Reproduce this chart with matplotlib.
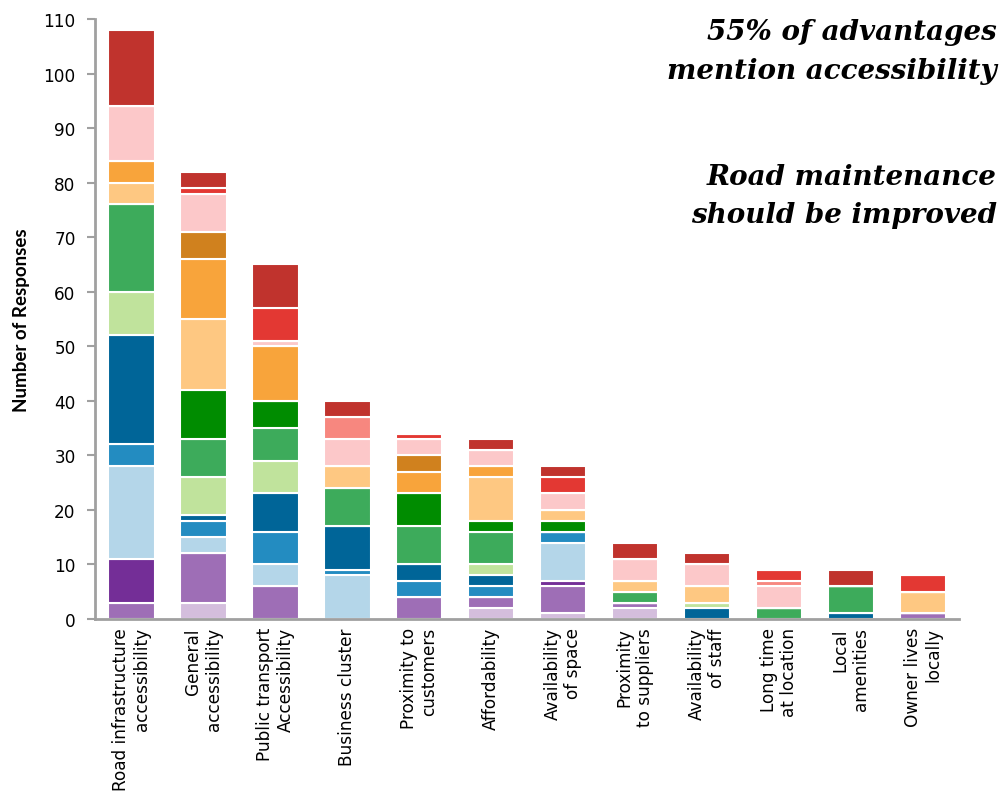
import numpy as np
import matplotlib
matplotlib.use("Agg")
import matplotlib.pyplot as plt

categories = [
    "Road infrastructure\naccessibility",
    "General\naccessibility",
    "Public transport\nAccessibility",
    "Business cluster",
    "Proximity to\ncustomers",
    "Affordability",
    "Availability\nof space",
    "Proximity\nto suppliers",
    "Availability\nof staff",
    "Long time\nat location",
    "Local\namenities",
    "Owner lives\nlocally",
]

# stacked segments, bottom to top
light_purple = [0, 3, 0, 0, 0, 2, 1, 2, 0, 0, 0, 0]
mid_purple   = [3, 9, 6, 0, 4, 2, 5, 1, 0, 0, 0, 1]
dark_purple  = [8, 0, 0, 0, 0, 0, 1, 0, 0, 0, 0, 0]
light_blue   = [17, 3, 4, 8, 0, 0, 7, 0, 0, 0, 0, 0]
mid_blue     = [4, 3, 6, 1, 3, 2, 2, 0, 0, 0, 0, 0]
dark_blue    = [20, 1, 7, 8, 3, 2, 0, 0, 2, 0, 1, 0]
light_green  = [8, 7, 6, 0, 0, 2, 0, 0, 1, 0, 0, 0]
mid_green    = [16, 7, 6, 7, 7, 6, 0, 2, 0, 2, 5, 0]
dark_green   = [0, 9, 5, 0, 6, 2, 2, 0, 0, 0, 0, 0]
light_orange = [4, 13, 0, 4, 0, 8, 2, 2, 3, 0, 0, 4]
mid_orange   = [4, 11, 10, 0, 4, 2, 0, 0, 0, 0, 0, 0]
dark_orange  = [0, 5, 0, 0, 3, 0, 0, 0, 0, 0, 0, 0]
light_pink   = [10, 7, 1, 5, 3, 3, 3, 4, 4, 4, 0, 0]
salmon       = [0, 0, 0, 4, 0, 0, 0, 0, 0, 1, 0, 0]
red          = [0, 1, 6, 0, 1, 0, 3, 0, 0, 2, 0, 3]
dark_red     = [14, 3, 8, 3, 0, 2, 2, 3, 2, 0, 3, 0]

series = [light_purple, mid_purple, dark_purple, light_blue, mid_blue, dark_blue,
          light_green, mid_green, dark_green, light_orange, mid_orange, dark_orange,
          light_pink, salmon, red, dark_red]
colors = ["#d4bedd", "#9e6eb6", "#742e97", "#b4d6e9", "#238cc1", "#006598",
          "#c0e39c", "#3dab5b", "#008c00", "#fec882", "#f8a43b", "#d0811e",
          "#fcc8c9", "#f7877f", "#e33833", "#c0332d"]

fig = plt.figure(figsize=(10.02, 8.03), dpi=100)
ax = fig.add_axes([0.095, 0.228, 0.862, 0.747])

x = np.arange(len(categories))
bottom = np.zeros(len(categories))
for vals, col in zip(series, colors):
    vals = np.array(vals, dtype=float)
    ax.bar(x, vals, bottom=bottom, width=0.65, color=col,
           edgecolor="white", linewidth=1.5)
    bottom += vals

ax.set_xlim(-0.5, len(categories) - 0.5)
ax.set_ylim(0, 110)
ax.set_yticks(range(0, 111, 10))
ax.set_xticks(x)
ax.set_xticklabels(categories, rotation=90, ha="center", va="top",
                   multialignment="right", fontsize=12.2)
ax.tick_params(axis="x", length=0, pad=6)
ax.tick_params(axis="y", length=6, width=1.5, color="#a0a0a0",
               labelsize=12.2, pad=8)

for s in ["top", "right"]:
    ax.spines[s].set_visible(False)
for s in ["left", "bottom"]:
    ax.spines[s].set_color("#a0a0a0")
    ax.spines[s].set_linewidth(2)

ax.set_ylabel("Number of Responses", fontsize=13.5, fontweight="bold",
              family="Lato", labelpad=10)

note_kw = dict(ha="right", va="baseline", fontsize=20, style="italic",
               fontweight="bold", family="DejaVu Serif")
fig.text(0.995, 0.950, "55% of advantages", **note_kw)
fig.text(0.995, 0.901, "mention accessibility", **note_kw)
fig.text(0.995, 0.770, "Road maintenance", **note_kw)
fig.text(0.995, 0.722, "should be improved", **note_kw)

fig.savefig("out.png", dpi=100)
